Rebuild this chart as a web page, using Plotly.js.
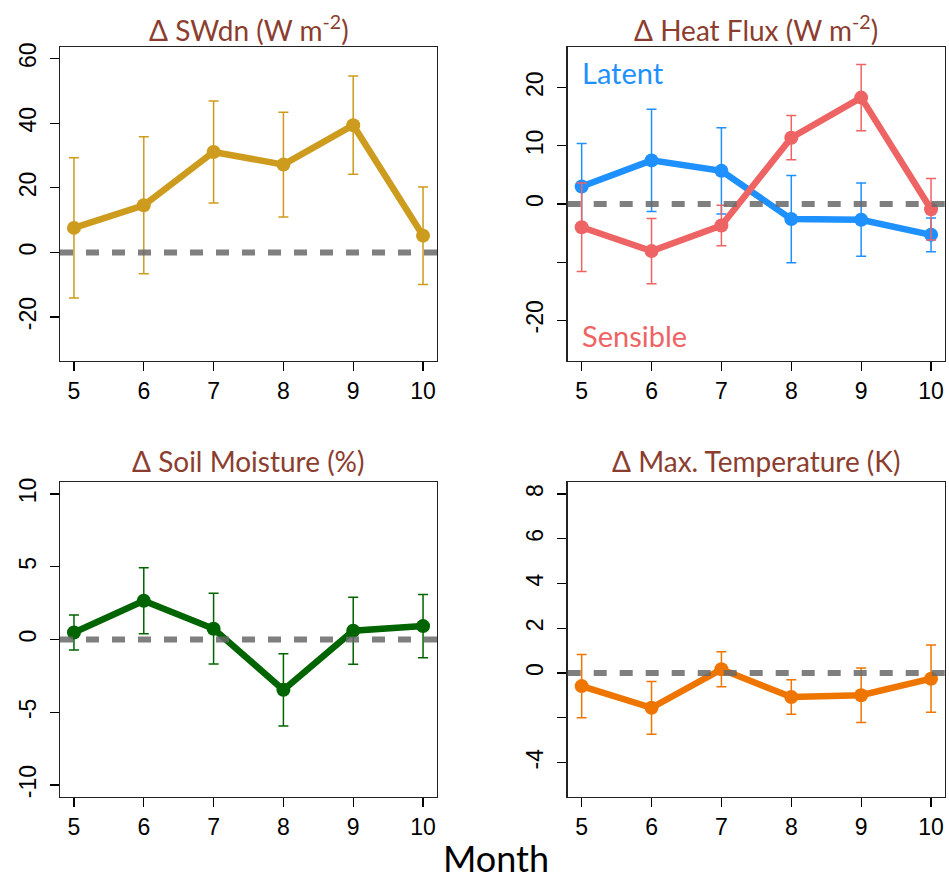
<!DOCTYPE html>
<html>
<head>
<meta charset="utf-8">
<script src="https://cdn.plot.ly/plotly-3.0.1.min.js"></script>
<style>html,body{margin:0;padding:0;background:#fff}</style>
</head>
<body>
<div id="chart" style="width:949px;height:881px"></div>
<script>
// ---- data ----
const months = [5, 6, 7, 8, 9, 10];
const monthTicks = ['5', '6', '7', '8', '9', '10'];

const swdn = [7.6, 14.6, 31.1, 27.2, 39.4, 5.2];
const swdnErr = [21.7, 21.2, 15.8, 16.2, 15.2, 15.1];

const latent = [3.0, 7.5, 5.7, -2.6, -2.7, -5.3];
const latentErr = [7.4, 8.8, 7.4, 7.5, 6.3, 2.9];
const sensible = [-4.0, -8.1, -3.7, 11.4, 18.3, -0.9];
const sensibleErr = [7.6, 5.6, 3.5, 3.8, 5.7, 5.3];

const soil = [0.48, 2.66, 0.74, -3.46, 0.6, 0.92];
const soilErr = [1.2, 2.27, 2.43, 2.48, 2.3, 2.18];

const tmax = [-0.58, -1.55, 0.17, -1.07, -0.99, -0.25];
const tmaxErr = [1.41, 1.18, 0.78, 0.77, 1.22, 1.5];

const yTicks1 = [-20, 0, 20, 40, 60];
const yTicks2 = [-20, -10, 0, 10, 20];
const yText2 = ['-20', '', '0', '10', '20'];
const yTicks3 = [-10, -5, 0, 5, 10];
const yTicks4 = [-4, -2, 0, 2, 4, 6, 8];
const yText4 = ['-4', '', '0', '2', '4', '6', '8'];

const titles = ['Δ SWdn (W m<sup>-2</sup>)', 'Δ Heat Flux (W m<sup>-2</sup>)', 'Δ Soil Moisture (%)', 'Δ Max. Temperature (K)'];

// ---- styles ----
const C = {gold: '#CD9B1D', blue: '#1E90FF', red: '#EE6363', green: '#006400', orange: '#EE7600'};
const titleColor = '#8B3E2F';

function series(x, y, err, color, xa, ya) {
  return {
    x: x, y: y, xaxis: xa, yaxis: ya, type: 'scatter', mode: 'lines+markers',
    line: {color: color, width: 6.5},
    marker: {color: color, size: 14},
    error_y: {type: 'data', array: err, visible: true, color: color, thickness: 1.5, width: 5},
    showlegend: false, hoverinfo: 'skip'
  };
}

const traces = [
  series(months, swdn, swdnErr, C.gold, 'x', 'y'),
  series(months, latent, latentErr, C.blue, 'x2', 'y2'),
  series(months, sensible, sensibleErr, C.red, 'x2', 'y2'),
  series(months, soil, soilErr, C.green, 'x3', 'y3'),
  series(months, tmax, tmaxErr, C.orange, 'x4', 'y4')
];

const W = 949, H = 881;
const xdomL = [60 / W, 437 / W], xdomR = [567.7 / W, 945 / W];
const ydomT = [1 - 361 / H, 1 - 47 / H], ydomB = [1 - 796.7 / H, 1 - 482.3 / H];

const tickFont = {family: '"Liberation Sans", Arial, sans-serif', size: 23, color: '#000'};

function xax(dom, anchor) {
  return {
    domain: dom, anchor: anchor, range: [4.8, 10.2],
    tickvals: months, ticktext: monthTicks, ticks: 'outside', ticklen: 9, tickwidth: 1.2, tickcolor: '#000',
    showline: true, linecolor: '#222', linewidth: 1.3, mirror: true,
    showgrid: false, zeroline: false, tickfont: tickFont, fixedrange: true
  };
}
function yax(dom, anchor, range, vals, text) {
  return {
    domain: dom, anchor: anchor, range: range,
    tickvals: vals, ticktext: text || vals.map(String), tickangle: -90,
    ticks: 'outside', ticklen: 9, tickwidth: 1.2, tickcolor: '#000', ticklabelstandoff: 5,
    showline: true, linecolor: '#222', linewidth: 1.3, mirror: true,
    showgrid: false, zeroline: false, tickfont: tickFont, fixedrange: true
  };
}

function zeroLine(xa, ya) {
  return {
    type: 'line', xref: xa + ' domain', yref: ya, x0: 0, x1: 1, y0: 0, y1: 0,
    line: {color: 'rgba(105,105,105,0.85)', width: 6, dash: '13px,13px'}, layer: 'above'
  };
}

const tFont = {family: 'Lato, sans-serif', size: 28, color: titleColor};
function titleAnn(text, xdom, ycenterPx) {
  return {
    text: text, xref: 'paper', yref: 'paper', x: (xdom[0] + xdom[1]) / 2, y: 1 - ycenterPx / H,
    xanchor: 'center', yanchor: 'middle', showarrow: false, font: tFont
  };
}

const layout = {
  width: W, height: H,
  margin: {l: 0, r: 0, t: 0, b: 0},
  paper_bgcolor: '#fff', plot_bgcolor: '#fff',
  showlegend: false,
  xaxis: xax(xdomL, 'y'), yaxis: yax(ydomT, 'x', [-33.6, 63.6], yTicks1),
  xaxis2: xax(xdomR, 'y2'), yaxis2: yax(ydomT, 'x2', [-27, 27], yTicks2, yText2),
  xaxis3: xax(xdomL, 'y3'), yaxis3: yax(ydomB, 'x3', [-10.8, 10.8], yTicks3),
  xaxis4: xax(xdomR, 'y4'), yaxis4: yax(ydomB, 'x4', [-5.52, 8.52], yTicks4, yText4),
  shapes: [zeroLine('x', 'y'), zeroLine('x2', 'y2'), zeroLine('x3', 'y3'), zeroLine('x4', 'y4')],
  annotations: [
    titleAnn(titles[0], xdomL, 28),
    titleAnn(titles[1], xdomR, 28),
    titleAnn(titles[2], xdomL, 461),
    titleAnn(titles[3], xdomR, 461),
    {text: 'Latent', xref: 'x2', yref: 'y2', x: 4.98, y: 22.6, xanchor: 'left', yanchor: 'middle',
     showarrow: false, font: {family: 'Lato, sans-serif', size: 29, color: C.blue}},
    {text: 'Sensible', xref: 'x2', yref: 'y2', x: 4.98, y: -22.6, xanchor: 'left', yanchor: 'middle',
     showarrow: false, font: {family: 'Lato, sans-serif', size: 29, color: C.red}},
    {text: 'Month', xref: 'paper', yref: 'paper', x: 496 / W, y: 1 - 858 / H, xanchor: 'center', yanchor: 'middle',
     showarrow: false, font: {family: 'Lato, sans-serif', size: 36, color: '#000'}}
  ]
};

Plotly.newPlot('chart', traces, layout, {staticPlot: true, displayModeBar: false});
</script>
</body>
</html>
